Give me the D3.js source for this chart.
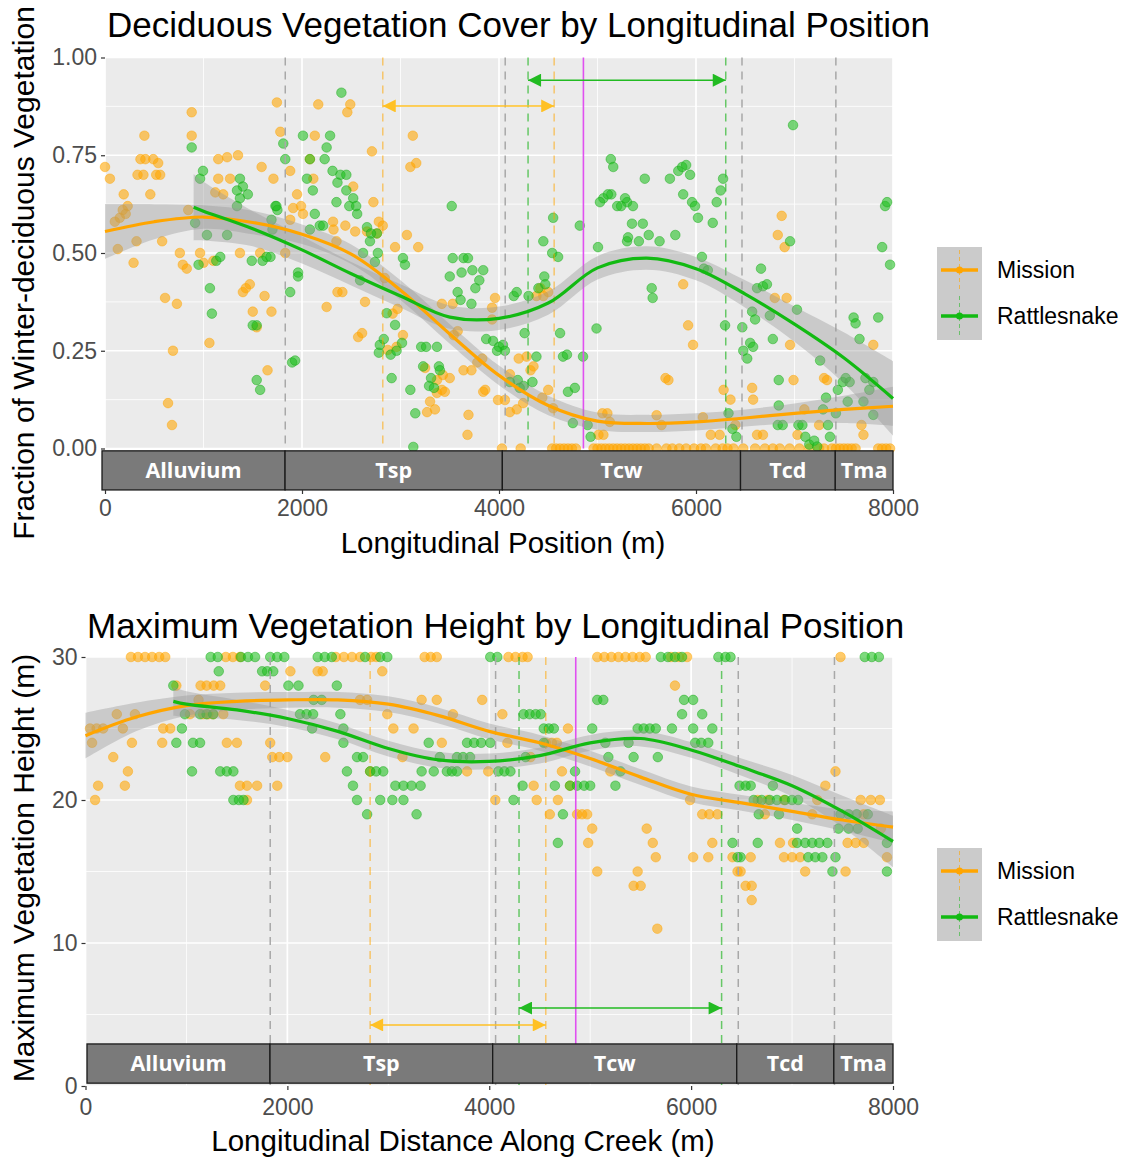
<!DOCTYPE html>
<html>
<head>
<meta charset="utf-8">
<script src="https://cdn.jsdelivr.net/npm/d3@7/dist/d3.min.js"></script>
<style>
  body { margin: 0; background: #fff; }
  svg { display: block; font-family: "Liberation Sans", Arial, sans-serif; }
</style>
</head>
<body>
<div id="chart"></div>
<script>

// geology units along the creek
var geoNames = ["Alluvium", "Tsp", "Tcw", "Tcd", "Tma"];
var geoBreaks = [0, 1828, 4034, 6452, 7414, 8000];

// reference lines (m)
var greyLines = [1830, 4063, 6467, 7420];
var missionLines = [2820, 4560];
var rattleLines = [4295, 6302];
var bridgeLine = 4857;
var xTicks = [0, 2000, 4000, 6000, 8000];
var xMinor = [1000, 3000, 5000, 7000];

// ---------- deciduous cover: points [position, fraction] ----------
var missionCover = [
  [0,.72],[50,.69],[100,.58],[130,.51],[150,.59],[180,.61],[190,.65],[210,.60],[230,.62],[290,.475],
  [320,.53],[330,.70],[360,.74],[390,.70],[400,.80],[410,.74],[460,.65],[490,.74],[520,.70],[540,.73],
  [560,.70],[580,.53],[610,.385],[640,.116],[680,.06],[690,.25],[730,.37],[760,.50],[790,.47],[830,.46],
  [845,.61],[880,.86],[880,.80],[965,.50],[1000,.475],[1060,.27],[1100,.48],[1120,.655],[1150,.74],[1150,.69],
  [1200,.65],[1240,.745],[1270,.69],[1350,.75],[1370,.50],[1400,.40],[1430,.41],[1470,.42],[1500,.35],[1540,.31],
  [1575,.50],[1590,.72],[1620,.39],[1650,.20],[1690,.35],[1710,.69],[1745,.885],[1780,.81],[1830,.50],[1880,.71],
  [1880,.585],[1910,.615],[1950,.65],[1990,.62],[2010,.60],[2080,.74],[2115,.69],[2130,.80],[2165,.88],[2250,.362],
  [2315,.58],[2320,.56],[2350,.53],[2360,.40],[2410,.40],[2440,.57],[2460,.86],[2490,.88],[2520,.67],[2540,.555],
  [2570,.285],[2610,.295],[2640,.375],[2660,.555],[2710,.76],[2725,.63],[2760,.55],[2780,.58],[2820,.57],[2840,.436],
  [2870,.252],[2920,.345],[2945,.515],[2960,.26],[2970,.357],[3025,.29],[3065,.546],[3100,.72],[3125,.80],[3160,.73],
  [3180,.515],[3250,.206],[3270,.093],[3300,.12],[3350,.10],[3370,.175],[3370,.142],[3420,.15],[3450,.145],[3430,.188],
  [3500,.18],[3420,.37],[3530,.37],[3540,.29],[3580,.30],[3640,.20],[3680,.035],[3690,.086],[3720,.20],[3780,.22],
  [3830,.23],[3840,.145],[3860,.15],[3930,.36],[3930,.33],[3960,.385],[3990,.124],[4060,.124],[4110,.093],[4180,.10],
  [4110,.19],[4200,.23],[4320,.20],[4350,.21],[4245,.116],[4280,.235],[4380,.39],[4420,.41],[4450,.39],[4500,.40],
  [4440,.13],[4500,.15],[4550,.103],[5050,.09],[5100,.09],[5125,.068],[5010,.035],[5060,.035],[5600,.085],[5650,.06],
  [5690,.18],[5720,.175],[5870,.42],[5920,.315],[5970,.265],[6070,.08],[6150,.035],[6240,.035],[6280,.15],[6350,.125],
  [6400,.06],[6570,.155],[6580,.125],[6620,.035],[6680,.035],[6800,.385],[6830,.546],[6870,.595],[6900,.515],[6920,.385],
  [6955,.265],[6990,.175],[7030,.035],[7100,.10],[7250,.06],[7300,.18],[7330,.175],[7680,.06],[7700,.035],[7800,.265]
];
// Mission transects with no deciduous cover (fraction 0)
var missionCoverZeros = [4030,4220,4540,4580,4620,4660,4700,4740,4780,4960,5000,5040,5080,5120,5160,5200,5240,
  5280,5320,5360,5400,5440,5480,5520,5600,5700,5760,5830,5900,5980,6050,6100,6200,6270,6320,6380,6480,6600,6700,
  6780,6850,6950,7050,7150,7250,7300,7380,7420,7460,7500,7540,7580,7620,7850,7890,7930,7970];

var rattleCover = [
  [880,.77],[965,.69],[995,.71],[1370,.69],[1400,.67],[1370,.64],[1450,.65],[1340,.66],[1340,.62],[915,.577],
  [1035,.546],[1240,.546],[950,.47],[1130,.48],[1170,.49],[1490,.48],[1600,.48],[1640,.49],[1810,.78],[1830,.74],
  [1730,.62],[1750,.61],[1690,.585],[1960,.45],[2010,.80],[2285,.80],[2080,.74],[2250,.77],[2230,.74],[2110,.66],
  [2130,.60],[2050,.69],[2310,.71],[2390,.70],[2450,.70],[2360,.68],[2350,.63],[2480,.62],[2560,.60],[2400,.91],
  [2080,.56],[2180,.57],[2620,.50],[2690,.53],[2760,.55],[2660,.566],[2450,.66],[2520,.64],[1065,.41],[1085,.345],
  [1500,.315],[1540,.315],[1540,.175],[1575,.15],[1880,.40],[1960,.44],[1900,.22],[1930,.225],[2780,.245],[2790,.265],
  [1680,.49],[1700,.56],[1740,.62],[2550,.62],[2215,.57],[2700,.55],[2770,.50],[2740,.477],[3025,.487],[3045,.47],
  [2590,.43],[2860,.346],[2945,.316],[2830,.28],[2900,.24],[2960,.25],[3015,.27],[2910,.18],[3100,.15],[3150,.09],
  [3130,.004],[3210,.26],[3260,.26],[3370,.26],[3230,.21],[3390,.21],[3310,.18],[3290,.16],[3340,.155],[3400,.20],
  [3520,.62],[3530,.487],[3640,.487],[3685,.487],[3500,.44],[3620,.45],[3730,.456],[3840,.456],[3800,.43],[3760,.41],
  [3580,.40],[3610,.38],[3720,.37],[3870,.28],[3940,.275],[4000,.26],[4040,.265],[4060,.25],[3980,.25],[4110,.17],
  [4190,.175],[4250,.16],[4340,.17],[4210,.155],[4150,.39],[4180,.40],[4300,.39],[4400,.41],[4460,.44],[4470,.42],
  [4550,.59],[4450,.53],[4540,.50],[4600,.49],[4260,.295],[4380,.235],[4620,.295],[4650,.235],[4690,.24],[4700,.145],
  [4770,.155],[4750,.065],[4900,.06],[4930,.03],[4820,.57],[4853,.235],[5005,.515],[4990,.307],[5060,.64],[5140,.65],
  [5200,.62],[5300,.63],[5300,.53],[5135,.74],[5160,.72],[5240,.62],[5280,.64],[5360,.62],[5480,.69],[5350,.575],
  [5460,.575],[5310,.54],[5420,.53],[5520,.546],[5630,.53],[5790,.546],[5735,.69],[5820,.71],[5860,.72],[5900,.725],
  [5940,.70],[5870,.65],[5960,.63],[5990,.62],[6020,.59],[6170,.577],[6210,.63],[6250,.66],[6275,.69],[6060,.49],
  [6080,.46],[6120,.456],[5025,.63],[5105,.65],[5550,.41],[5560,.385],[6295,.315],[6470,.31],[6480,.25],[6520,.23],
  [6330,.09],[6370,.05],[6410,.03],[6985,.827],[7920,.62],[7940,.63],[6955,.53],[7890,.515],[7970,.47],[6660,.46],
  [6620,.41],[6680,.415],[6720,.42],[6570,.35],[6600,.33],[6750,.34],[7025,.355],[6550,.27],[6580,.26],[6780,.28],
  [6840,.175],[6840,.11],[6830,.06],[6880,.06],[7040,.06],[7080,.06],[7110,.03],[7150,.01],[7200,.02],[7230,.005],
  [7260,.225],[7290,.10],[7340,.06],[7360,.03],[7320,.13],[7420,.09],[7440,.15],[7490,.17],[7560,.17],[7520,.18],
  [7720,.18],[7800,.17],[7760,.15],[7600,.335],[7620,.32],[7660,.28],[7850,.335],[7540,.12],[7700,.12],[7800,.086]
];

// smoothed trend (loess): position, fit, standard error
var coverFitX = [0,500,1000,1500,2000,2500,3000,3500,4000,4500,5000,5500,6000,6500,7000,7500,8000];
var missionCoverFit = [.555,.580,.592,.578,.548,.497,.405,.293,.187,.110,.070,.064,.068,.078,.090,.100,.108];
var missionCoverSe = [.07,.045,.03,.03,.025,.025,.025,.025,.025,.025,.022,.022,.022,.022,.025,.035,.05];
var rattleCoverFitX = [900,1000,1500,2000,2500,3000,3500,4000,4500,5000,5500,6000,6500,7000,7500,8000];
var rattleCoverFit = [.617,.607,.562,.508,.447,.39,.336,.333,.372,.462,.487,.46,.395,.318,.232,.128];
var rattleCoverSe = [.085,.075,.045,.035,.03,.03,.03,.03,.03,.03,.03,.03,.035,.045,.065,.095];

// ---------- maximum height: rows of [height (m), positions] ----------
var missionHeight = [
  [30,[450,520,590,660,730,790,1390,1460,1530,2480,2560,2640,2720,2830,2880,3360,3420,3480,4190,4260,4330,4380,
       5070,5140,5210,5280,5350,5420,5490,5550,5800,5880,5960,7480]],
  [29,[2030,2300,2350,2940]],
  [28,[900,1140,1200,1270,1335,1780,5840]],
  [27,[1120,2720,2790,3330,3480,3930]],
  [26,[310,490,1035,1165,1215,1265,1365,2990,3640,4130]],
  [25,[45,110,175,370,770,840,3050,3250,4780]],
  [24,[65,460,760,1400,1500,1830,3530,4180,4560,4620,4670]],
  [23,[275,1850,1920,2000,2375,3140,4410]],
  [22,[420,2820,3780,3990,4720,5200,7430]],
  [21,[125,390,1530,1600,1700,1900,4440,4800,7330]],
  [20,[95,1600,4060,4470,4680,5990,6660,6760,6920,7250,7680,7780,7870]],
  [19,[4600,4870,4920,4970,6110,6180,6260,6730,7200,7710]],
  [18,[5020,5560,7880]],
  [17,[4980,5620,6210,6880,7010,7550,7630,7710]],
  [16,[5650,6020,6170,6410,6590,6920,7000,7080,7940]],
  [15,[5070,5470,6460,6490,7130,7530]],
  [14,[5430,5500,6540,6600]],
  [13,[6600]],
  [11,[5665]]
];
var rattleHeight = [
  [30,[1240,1310,1540,1610,1680,1830,1900,1970,2300,2370,2440,2770,2920,2990,4010,4080,5700,5770,5840,5910,
       6270,6340,6390,7720,7790,7860]],
  [29,[1320,1750,1800,1860]],
  [28,[870,2010,2110,2490]],
  [27,[2260,2340,5070,5130,5930,6020]],
  [26,[985,1135,1200,1265,2125,2190,2255,2525,4340,4400,4460,4510,5910,6110]],
  [25,[955,2245,2555,4540,4590,4640,5020,5470,5530,5590,5650,5810,6020,6210]],
  [24,[900,1065,1135,2555,3400,3780,3850,3920,4010,4540,5150,5380,6040,6100,6170]],
  [23,[2690,2750,3510,3680,3740,3810,4360,5180,5430,5670]],
  [22,[1055,1335,1400,1465,2590,2820,2880,2950,3330,3450,3580,3630,3680,4090,4150,4210,4850,5300]],
  [21,[2650,3070,3150,3230,3320,4330,4650,4800,4870,4940,5000,5250,6480,6540,6590,6810]],
  [20,[1465,1520,1565,2690,2920,3040,3150,4240,6620,6700,6780,6850,6930,7000,7060]],
  [19,[2790,3280,4730,6670,6870,7480,7560,7640,7750]],
  [18,[7050,7460,7560,7650]],
  [17,[4680,6410,6660,7050,7130,7200,7270,7350,7940]],
  [16,[6460,6490,7160,7230,7300,7430]],
  [15,[7400,7940]]
];

var heightFitX = [0,500,1000,1500,2000,2500,3000,3500,4000,4500,5000,5500,6000,6500,7000,7500,8000];
var missionHeightFit = [24.5,25.8,26.6,26.9,27.0,27.0,26.7,25.9,24.8,24.0,22.9,21.6,20.4,19.8,19.2,18.6,18.1];
var missionHeightSe = [1.6,1.0,.7,.6,.55,.55,.55,.55,.55,.55,.55,.55,.55,.55,.6,.75,1.1];
var rattleHeightFitX = [870,1000,1500,2000,2500,3000,3500,4000,4500,5000,5500,6000,6500,7000,7500,8000];
var rattleHeightFit = [26.9,26.7,26.3,25.7,24.8,23.6,22.8,22.7,23.1,24.0,24.3,23.5,22.3,21.0,19.2,17.1];
var rattleHeightSe = [1.0,.9,.7,.6,.55,.55,.55,.55,.55,.55,.55,.55,.6,.75,1.1,1.8];

var seriesNames = ["Mission", "Rattlesnake"];

// ---------- styles ----------
var orange = "#FFA500", green = "#1FC01F", greenLine = "#12BA12";
var orangeArrow = "#FFC125", greenArrow = "#22BB22";

var svg = d3.select("#chart").append("svg")
  .attr("width", 1128)
  .attr("height", 1160);

var defs = svg.append("defs");
function addMarker(id, color) {
  defs.append("marker")
    .attr("id", id)
    .attr("viewBox", "0 0 10 10")
    .attr("refX", 10).attr("refY", 5)
    .attr("markerWidth", 15).attr("markerHeight", 13)
    .attr("markerUnits", "userSpaceOnUse")
    .attr("orient", "auto-start-reverse")
    .append("path").attr("d", "M0,0L10,5L0,10Z").attr("fill", color);
}
addMarker("arrO", orangeArrow);
addMarker("arrG", greenArrow);

function rowsToPoints(rows) {
  var out = [];
  rows.forEach(function (r) { r[1].forEach(function (x) { out.push([x, r[0]]); }); });
  return out;
}
function fitRows(xs, fit, se) {
  return xs.map(function (x, i) { return { x: x, y: fit[i], lo: fit[i] - se[i], hi: fit[i] + se[i] }; });
}

function drawPanel(cfg) {
  var x = d3.scaleLinear().domain([0, 8000]).range(cfg.xRange);
  var y = d3.scaleLinear().domain(cfg.yDomain).range(cfg.yRange);
  var g = svg.append("g");
  var x0 = cfg.xRange[0], x1 = cfg.xRange[1];
  var yTop = y(cfg.yDomain[1]), yBot = y(cfg.yDomain[0]);

  // panel background + grid
  g.append("rect").attr("x", x0).attr("y", yTop).attr("width", x1 - x0).attr("height", yBot - yTop)
    .attr("fill", "#EBEBEB");
  g.selectAll(".hminor").data(cfg.yMinor).enter().append("line")
    .attr("x1", x0).attr("x2", x1).attr("y1", y).attr("y2", y)
    .attr("stroke", "#fff").attr("stroke-width", 0.8);
  g.selectAll(".vminor").data(xMinor).enter().append("line")
    .attr("x1", x).attr("x2", x).attr("y1", yTop).attr("y2", yBot)
    .attr("stroke", "#fff").attr("stroke-width", 0.8);
  g.selectAll(".hmajor").data(cfg.yTicks).enter().append("line")
    .attr("x1", x0).attr("x2", x1).attr("y1", y).attr("y2", y)
    .attr("stroke", "#fff").attr("stroke-width", 1.7);
  g.selectAll(".vmajor").data(xTicks).enter().append("line")
    .attr("x1", x).attr("x2", x).attr("y1", yTop).attr("y2", yBot)
    .attr("stroke", "#fff").attr("stroke-width", 1.7);

  // scatter
  var pts = g.append("g");
  pts.selectAll(".pm").data(cfg.mission).enter().append("circle")
    .attr("cx", function (d) { return x(d[0]); })
    .attr("cy", function (d) { return y(d[1]); })
    .attr("r", 4.8)
    .attr("fill", orange).attr("fill-opacity", 0.58)
    .attr("stroke", orange).attr("stroke-opacity", 0.45).attr("stroke-width", 1);
  pts.selectAll(".pr").data(cfg.rattle).enter().append("circle")
    .attr("cx", function (d) { return x(d[0]); })
    .attr("cy", function (d) { return y(d[1]); })
    .attr("r", 4.8)
    .attr("fill", green).attr("fill-opacity", 0.58)
    .attr("stroke", "#13A813").attr("stroke-opacity", 0.45).attr("stroke-width", 1);

  // vertical reference lines
  var vl = g.append("g");
  vl.selectAll(".vg").data(greyLines).enter().append("line")
    .attr("x1", x).attr("x2", x).attr("y1", yTop).attr("y2", cfg.vlineBottom)
    .attr("stroke", "#A8A8A8").attr("stroke-width", 1.5).attr("stroke-dasharray", "8,6");
  vl.selectAll(".vo").data(missionLines).enter().append("line")
    .attr("x1", x).attr("x2", x).attr("y1", yTop).attr("y2", cfg.vlineBottom)
    .attr("stroke", orange).attr("stroke-opacity", 0.55).attr("stroke-width", 1.5).attr("stroke-dasharray", "8,6");
  vl.selectAll(".vr").data(rattleLines).enter().append("line")
    .attr("x1", x).attr("x2", x).attr("y1", yTop).attr("y2", cfg.vlineBottom)
    .attr("stroke", "#2DB82D").attr("stroke-opacity", 0.7).attr("stroke-width", 1.5).attr("stroke-dasharray", "8,6");
  vl.append("line")
    .attr("x1", x(bridgeLine)).attr("x2", x(bridgeLine)).attr("y1", yTop).attr("y2", cfg.bridgeBottom)
    .attr("stroke", "#E050F0").attr("stroke-width", 1.6);

  // smooth fits with confidence bands
  var area = d3.area().x(function (d) { return x(d.x); })
    .y0(function (d) { return y(d.lo); }).y1(function (d) { return y(d.hi); })
    .curve(d3.curveCatmullRom.alpha(0.5));
  var line = d3.line().x(function (d) { return x(d.x); }).y(function (d) { return y(d.y); })
    .curve(d3.curveCatmullRom.alpha(0.5));
  [cfg.missionFit, cfg.rattleFit].forEach(function (f) {
    g.append("path").datum(f).attr("d", area).attr("fill", "#999").attr("fill-opacity", 0.4);
  });
  g.append("path").datum(cfg.missionFit).attr("d", line)
    .attr("fill", "none").attr("stroke", orange).attr("stroke-width", 3.2);
  g.append("path").datum(cfg.rattleFit).attr("d", line)
    .attr("fill", "none").attr("stroke", greenLine).attr("stroke-width", 3.2);

  // arrows showing the reach ranges
  g.append("line")
    .attr("x1", x(missionLines[0])).attr("x2", x(missionLines[1]))
    .attr("y1", y(cfg.arrowMission)).attr("y2", y(cfg.arrowMission))
    .attr("stroke", orangeArrow).attr("stroke-width", 1.4)
    .attr("marker-start", "url(#arrO)").attr("marker-end", "url(#arrO)");
  g.append("line")
    .attr("x1", x(rattleLines[0])).attr("x2", x(rattleLines[1]))
    .attr("y1", y(cfg.arrowRattle)).attr("y2", y(cfg.arrowRattle))
    .attr("stroke", greenArrow).attr("stroke-width", 1.4)
    .attr("marker-start", "url(#arrG)").attr("marker-end", "url(#arrG)");

  // geology bar
  var bt = y(cfg.bar[0]), bb = y(cfg.bar[1]);
  var geo = g.append("g");
  geo.selectAll("rect").data(geoNames).enter().append("rect")
    .attr("x", function (d, i) { return i === 0 ? cfg.barLeft : x(geoBreaks[i]); })
    .attr("y", bt)
    .attr("width", function (d, i) { return x(geoBreaks[i + 1]) - (i === 0 ? cfg.barLeft : x(geoBreaks[i])); })
    .attr("height", bb - bt)
    .attr("fill", "#7A7A7A").attr("stroke", "#1a1a1a").attr("stroke-width", 1.3);
  geo.selectAll("text").data(geoNames).enter().append("text")
    .attr("x", function (d, i) { return ((i === 0 ? cfg.barLeft : x(geoBreaks[i])) + x(geoBreaks[i + 1])) / 2; })
    .attr("y", (bt + bb) / 2 + 7.5)
    .attr("text-anchor", "middle")
    .style("font-family", "'Open Sans', sans-serif").style("font-weight", 700)
    .style("font-size", "21.5px").attr("fill", "#fff")
    .text(function (d) { return d; });

  // axes
  var xAxis = g.append("g").attr("transform", "translate(0," + cfg.xAxisY + ")")
    .call(d3.axisBottom(x).tickValues(xTicks).tickSize(4).tickPadding(cfg.xPad).tickFormat(d3.format("d")));
  xAxis.select(".domain").remove();
  xAxis.selectAll(".tick line").attr("stroke", "#333").attr("stroke-width", 1.2);
  xAxis.selectAll("text").attr("fill", "#4D4D4D").style("font-size", "23px");

  var yAxis = g.append("g").attr("transform", "translate(" + x0 + ",0)")
    .call(d3.axisLeft(y).tickValues(cfg.yTicks).tickSize(4).tickPadding(4).tickFormat(cfg.fmt));
  yAxis.select(".domain").remove();
  yAxis.selectAll(".tick line").attr("stroke", "#333").attr("stroke-width", 1.2);
  yAxis.selectAll("text").attr("fill", "#4D4D4D").style("font-size", "23px");

  // titles
  g.append("text").attr("x", cfg.titleX).attr("y", cfg.titleY)
    .style("font-size", "35px").attr("fill", "#000").text(cfg.title);
  g.append("text").attr("x", cfg.xTitleX).attr("y", cfg.xTitleY).attr("text-anchor", "middle")
    .style("font-size", "29.5px").attr("fill", "#000").text(cfg.xTitle);
  g.append("text").attr("transform", "translate(" + cfg.yTitleX + "," + cfg.yTitleY + ") rotate(-90)")
    .attr("text-anchor", "middle").style("font-size", "30px").attr("fill", "#000").text(cfg.yTitle);

  // legend
  var lg = g.append("g").attr("transform", "translate(937," + cfg.legendY + ")");
  lg.append("rect").attr("width", 45).attr("height", 93).attr("fill", "#CBCBCB");
  [[orange, orange], [greenLine, "#2DB82D"]].forEach(function (c, i) {
    var cy = 23 + i * 46;
    lg.append("line").attr("x1", 22.5).attr("x2", 22.5).attr("y1", cy - 20).attr("y2", cy + 20)
      .attr("stroke", c[1]).attr("stroke-opacity", 0.6).attr("stroke-width", 1).attr("stroke-dasharray", "4,3");
    lg.append("line").attr("x1", 4).attr("x2", 41).attr("y1", cy).attr("y2", cy)
      .attr("stroke", c[0]).attr("stroke-width", 3.5);
    lg.append("circle").attr("cx", 22.5).attr("cy", cy).attr("r", 3.5).attr("fill", c[0]);
    lg.append("text").attr("x", 60).attr("y", cy + 8).style("font-size", "23px").attr("fill", "#000")
      .text(seriesNames[i]);
  });
}

drawPanel({
  title: "Deciduous Vegetation Cover by Longitudinal Position",
  xTitle: "Longitudinal Position (m)",
  yTitle: "Fraction of Winter-deciduous Vegetation",
  xRange: [105, 893], yDomain: [0, 1], yRange: [448.5, 57.5],
  yTicks: [0, .25, .5, .75, 1], yMinor: [.125, .375, .625, .875], fmt: d3.format(".2f"),
  mission: missionCover.concat(missionCoverZeros.map(function (v) { return [v, 0]; })),
  rattle: rattleCover,
  missionFit: fitRows(coverFitX, missionCoverFit, missionCoverSe),
  rattleFit: fitRows(rattleCoverFitX, rattleCoverFit, rattleCoverSe),
  arrowMission: 0.876, arrowRattle: 0.942,
  bar: [-0.006, -0.106], barLeft: 102,
  vlineBottom: 448.5, bridgeBottom: 448.5,
  xAxisY: 490, xPad: 6,
  titleX: 107, titleY: 37,
  xTitleX: 503, xTitleY: 553,
  yTitleX: 34, yTitleY: 273,
  legendY: 247
});

drawPanel({
  title: "Maximum Vegetation Height by Longitudinal Position",
  xTitle: "Longitudinal Distance Along Creek (m)",
  yTitle: "Maximum Vegetation Height (m)",
  xRange: [85.5, 893], yDomain: [0, 30], yRange: [1086, 657],
  yTicks: [0, 10, 20, 30], yMinor: [5, 15, 25], fmt: d3.format("d"),
  mission: rowsToPoints(missionHeight),
  rattle: rowsToPoints(rattleHeight),
  missionFit: fitRows(heightFitX, missionHeightFit, missionHeightSe),
  rattleFit: fitRows(rattleHeightFitX, rattleHeightFit, rattleHeightSe),
  arrowMission: 4.27, arrowRattle: 5.45,
  bar: [2.94, 0.2], barLeft: 87,
  vlineBottom: 1086, bridgeBottom: 1044,
  xAxisY: 1086, xPad: 9,
  titleX: 87, titleY: 638,
  xTitleX: 463, xTitleY: 1151,
  yTitleX: 34, yTitleY: 868,
  legendY: 848
});
</script>
</body>
</html>
